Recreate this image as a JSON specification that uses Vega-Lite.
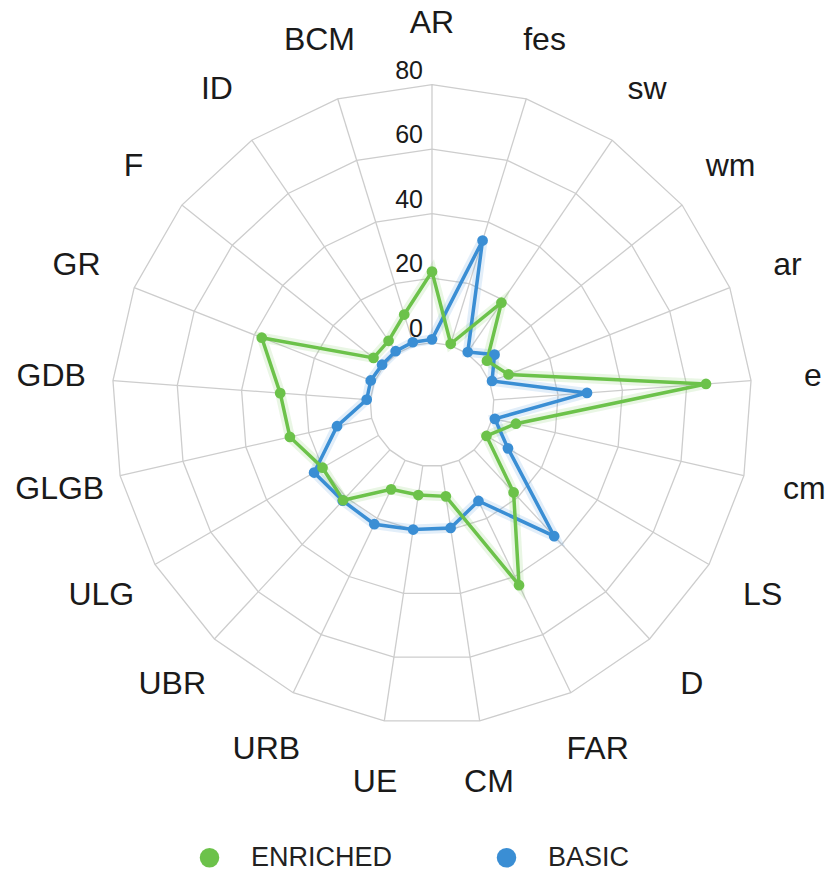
{
  "$schema": "https://vega.github.io/schema/vega-lite/v6.json",
  "width": 826,
  "height": 874,
  "padding": 0,
  "autosize": {"type": "none"},
  "background": "white",
  "config": {"view": {"stroke": null}, "font": "Liberation Sans"},
  "datasets": {
    "scores": [
      {"axis": "AR", "series": "BASIC", "value": 1},
      {"axis": "fes", "series": "BASIC", "value": 34},
      {"axis": "sw", "series": "BASIC", "value": 0.5},
      {"axis": "wm", "series": "BASIC", "value": 5.6},
      {"axis": "ar", "series": "BASIC", "value": 0.8},
      {"axis": "e", "series": "BASIC", "value": 29},
      {"axis": "cm", "series": "BASIC", "value": 0.8},
      {"axis": "LS", "series": "BASIC", "value": 8},
      {"axis": "D", "series": "BASIC", "value": 36.5},
      {"axis": "FAR", "series": "BASIC", "value": 14},
      {"axis": "CM", "series": "BASIC", "value": 19.5},
      {"axis": "UE", "series": "BASIC", "value": 20},
      {"axis": "URB", "series": "BASIC", "value": 22},
      {"axis": "UBR", "series": "BASIC", "value": 21.5},
      {"axis": "ULG", "series": "BASIC", "value": 23},
      {"axis": "GLGB", "series": "BASIC", "value": 11},
      {"axis": "GDB", "series": "BASIC", "value": 1.1},
      {"axis": "GR", "series": "BASIC", "value": 1.2},
      {"axis": "F", "series": "BASIC", "value": 0.6},
      {"axis": "ID", "series": "BASIC", "value": 0.8},
      {"axis": "BCM", "series": "BASIC", "value": 1},
      {"axis": "AR", "series": "ENRICHED", "value": 22},
      {"axis": "fes", "series": "ENRICHED", "value": 0.5},
      {"axis": "sw", "series": "ENRICHED", "value": 19},
      {"axis": "wm", "series": "ENRICHED", "value": 2.6},
      {"axis": "ar", "series": "ENRICHED", "value": 6.3},
      {"axis": "e", "series": "ENRICHED", "value": 66},
      {"axis": "cm", "series": "ENRICHED", "value": 7.5},
      {"axis": "LS", "series": "ENRICHED", "value": 0.3},
      {"axis": "D", "series": "ENRICHED", "value": 18},
      {"axis": "FAR", "series": "ENRICHED", "value": 43},
      {"axis": "CM", "series": "ENRICHED", "value": 9.6},
      {"axis": "UE", "series": "ENRICHED", "value": 9.2},
      {"axis": "URB", "series": "ENRICHED", "value": 10},
      {"axis": "UBR", "series": "ENRICHED", "value": 21.3},
      {"axis": "ULG", "series": "ENRICHED", "value": 20},
      {"axis": "GLGB", "series": "ENRICHED", "value": 26},
      {"axis": "GDB", "series": "ENRICHED", "value": 28},
      {"axis": "GR", "series": "ENRICHED", "value": 37.5},
      {"axis": "F", "series": "ENRICHED", "value": 4},
      {"axis": "ID", "series": "ENRICHED", "value": 4.7},
      {"axis": "BCM", "series": "ENRICHED", "value": 10}
    ]
  },
  "data": {"name": "scores"},
  "transform": [
    {"calculate": "indexof(['AR','fes','sw','wm','ar','e','cm','LS','D','FAR','CM','UE','URB','UBR','ULG','GLGB','GDB','GR','F','ID','BCM'], datum.axis)", "as": "i"},
    {"calculate": "datum.i * 2 * PI / 21", "as": "ang"},
    {"calculate": "(19.2 + datum.value) * sin(datum.ang)", "as": "px"},
    {"calculate": "(19.2 + datum.value) * cos(datum.ang)", "as": "py"}
  ],
  "encoding": {
    "x": {"field": "px", "type": "quantitative", "scale": {"domain": [-133.95, 122.17], "nice": false, "zero": false}, "axis": null},
    "y": {"field": "py", "type": "quantitative", "scale": {"domain": [-145.58, 125.43], "nice": false, "zero": false}, "axis": null}
  },
  "layer": [
    {
      "transform": [
        {"filter": "datum.series == 'ENRICHED'"},
        {"calculate": "[0, 20, 40, 60, 80]", "as": "lv"},
        {"flatten": ["lv"]},
        {"calculate": "(19.2 + datum.lv) * sin(datum.ang)", "as": "gx"},
        {"calculate": "(19.2 + datum.lv) * cos(datum.ang)", "as": "gy"}
      ],
      "mark": {"type": "line", "interpolate": "linear-closed", "color": "#cdcdcd", "strokeWidth": 1.3},
      "encoding": {
        "x": {"field": "gx", "type": "quantitative"},
        "y": {"field": "gy", "type": "quantitative"},
        "detail": {"field": "lv", "type": "nominal"},
        "order": {"field": "i", "type": "quantitative"}
      }
    },
    {
      "transform": [
        {"filter": "datum.series == 'ENRICHED'"},
        {"calculate": "19.2 * sin(datum.ang)", "as": "sx1"},
        {"calculate": "19.2 * cos(datum.ang)", "as": "sy1"},
        {"calculate": "99.2 * sin(datum.ang)", "as": "sx2"},
        {"calculate": "99.2 * cos(datum.ang)", "as": "sy2"}
      ],
      "mark": {"type": "rule", "color": "#cdcdcd", "strokeWidth": 1.3},
      "encoding": {
        "x": {"field": "sx1", "type": "quantitative"},
        "y": {"field": "sy1", "type": "quantitative"},
        "x2": {"field": "sx2"},
        "y2": {"field": "sy2"}
      }
    },
    {
      "transform": [{"filter": "datum.series == 'BASIC'"}],
      "mark": {"type": "line", "interpolate": "linear-closed", "strokeWidth": 10, "opacity": 0.15, "color": "#3a8ed4"},
      "encoding": {"order": {"field": "i", "type": "quantitative"}}
    },
    {
      "transform": [{"filter": "datum.series == 'ENRICHED'"}],
      "mark": {"type": "line", "interpolate": "linear-closed", "strokeWidth": 10, "opacity": 0.15, "color": "#6cc24a"},
      "encoding": {"order": {"field": "i", "type": "quantitative"}}
    },
    {
      "transform": [{"filter": "datum.series == 'BASIC'"}],
      "mark": {"type": "line", "interpolate": "linear-closed", "strokeWidth": 3.5, "color": "#3a8ed4"},
      "encoding": {"order": {"field": "i", "type": "quantitative"}}
    },
    {
      "transform": [{"filter": "datum.series == 'ENRICHED'"}],
      "mark": {"type": "line", "interpolate": "linear-closed", "strokeWidth": 3.5, "color": "#6cc24a"},
      "encoding": {"order": {"field": "i", "type": "quantitative"}}
    },
    {
      "mark": {"type": "circle", "size": 115, "opacity": 1},
      "encoding": {
        "color": {"field": "series", "type": "nominal", "scale": {"domain": ["ENRICHED", "BASIC"], "range": ["#6cc24a", "#3a8ed4"]},
          "legend": {"orient": "none", "legendX": 196, "legendY": 844, "direction": "horizontal", "title": null, "symbolType": "circle", "symbolSize": 380, "symbolStrokeWidth": 0, "symbolOpacity": 1, "labelFontSize": 27, "labelFont": "Liberation Sans", "labelColor": "#222222", "labelOffset": 28, "columnPadding": 100, "labelLimit": 300}}
      }
    },
    {
      "transform": [
        {"filter": "datum.series == 'ENRICHED'"},
        {"calculate": "118.4 * sin(datum.ang)", "as": "lx"},
        {"calculate": "118.4 * cos(datum.ang)", "as": "ly"}
      ],
      "mark": {"type": "text", "fontSize": 32, "font": "Liberation Sans", "color": "#1a1a1a", "align": "center", "baseline": "middle"},
      "encoding": {
        "x": {"field": "lx", "type": "quantitative"},
        "y": {"field": "ly", "type": "quantitative"},
        "text": {"field": "axis", "type": "nominal"}
      }
    },
    {
      "transform": [
        {"filter": "datum.series == 'ENRICHED' && datum.axis == 'AR'"},
        {"calculate": "[0, 20, 40, 60, 80]", "as": "lv"},
        {"flatten": ["lv"]},
        {"calculate": "0", "as": "tx"},
        {"calculate": "19.2 + datum.lv", "as": "ty"}
      ],
      "mark": {"type": "text", "fontSize": 25, "font": "Liberation Sans", "color": "#1a1a1a", "align": "right", "baseline": "middle", "dx": -9, "dy": -14},
      "encoding": {
        "x": {"field": "tx", "type": "quantitative"},
        "y": {"field": "ty", "type": "quantitative"},
        "text": {"field": "lv", "type": "quantitative"}
      }
    }
  ]
}
